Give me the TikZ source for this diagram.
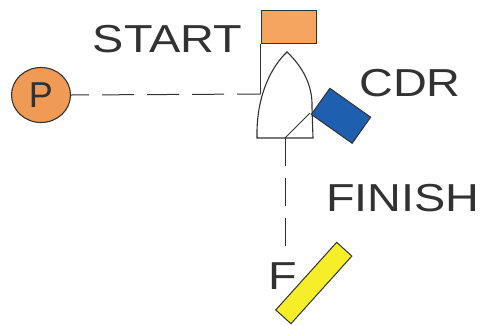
\documentclass[tikz,border=0pt]{standalone}
\usepackage{fontspec}
\setmainfont{Liberation Sans}
\usetikzlibrary{shapes.geometric}
\definecolor{ink}{RGB}{50,50,50}
\definecolor{flagorange}{RGB}{245,165,95}
\definecolor{porange}{RGB}{240,155,85}
\definecolor{cdrblue}{RGB}{30,95,175}
\definecolor{finyellow}{RGB}{245,238,40}
\tikzset{
  lbl/.style={inner sep=0pt, text=ink, font=\fontsize{39}{39}\selectfont, xscale=1.2},
  outl/.style={draw=ink, line width=1.1pt},
  markline/.style={draw=ink, line width=1pt},
  dashline/.style={markline, dash pattern=on 32pt off 13pt},
}
\begin{document}
\begin{tikzpicture}[x=1pt,y=-1pt]
\useasboundingbox (0,0) rectangle (484,325);
% labels
\node[lbl] (start) at (167.5,39) {START};
\node[lbl] (cdr) at (410,83.5) {CDR};
\node[lbl] (finish) at (403,198) {FINISH};
\node[lbl] (f) at (283,276) {F};
% pin
\node[ellipse, outl, fill=porange, minimum width=59pt, minimum height=55pt, inner sep=0pt,
      text=ink, font=\fontsize{36}{36}\selectfont] (p) at (41,95) {P};
% flag on boat
\node[rectangle, draw=ink, line width=1pt, fill=flagorange, minimum width=55pt, minimum height=33pt, inner sep=0pt] (flag) at (288.5,26.5) {};
% boat hull
\coordinate (bl) at (257,138);
\coordinate (br) at (313,138);
\coordinate (tip) at (287,52);
\coordinate (portside) at (260.5,94);
\coordinate (mid) at (285,138);
\coordinate (stb) at (310,113);
\draw[fill=white, draw=ink, line width=1.1pt] (bl) .. controls (256,95) and (272,66) .. (tip)
   .. controls (302,66) and (313,85) .. (312,108) -- (br) -- cycle;
\draw[markline] (flag.south west) -- (portside);
\draw[markline] (mid) -- (stb);
% committee boat mark
\node[rectangle, draw=ink, line width=1pt, fill=cdrblue, minimum width=50pt, minimum height=32pt, inner sep=0pt, rotate=-35.3] (cdrmark) at (341,115.8) {};
% finish mark
\node[rectangle, draw=ink, line width=1pt, fill=finyellow, minimum width=91pt, minimum height=20.5pt, inner sep=0pt, rotate=48] (finmark) at (313.8,283) {};
% lines
\draw[dashline, dash phase=14pt] (p.east) -- (portside);
\coordinate (fend) at (285,250);
\draw[markline, dash pattern=on 28pt off 12pt] (mid) -- (fend);
\end{tikzpicture}
\end{document}
